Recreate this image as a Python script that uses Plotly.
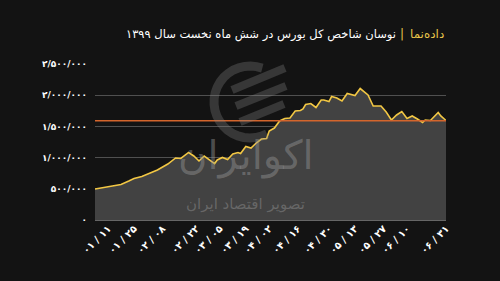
import math
import plotly.graph_objects as go

# trading-day index and index value (TEDPIX)
day_idx = [0, 6, 10, 13, 15, 18, 21, 24, 28, 31, 33, 36, 38, 40, 42, 44, 46, 47, 49, 51,
           53, 55, 56, 58, 60, 62, 64, 66, 67, 69, 71, 73, 75, 77, 79, 80, 81, 83, 85, 87,
           88, 90, 91, 93, 95, 97, 100, 102, 105, 107, 110, 112, 114, 116, 118, 120, 122,
           124, 126, 127, 129, 132, 133, 135]
index_value = [497000, 545000, 569000, 625000, 665000, 697000, 753000, 801000, 897000, 994000,
               986000, 1082000, 1026000, 946000, 1026000, 962000, 905000, 962000, 1002000, 970000,
               1058000, 1082000, 1066000, 1178000, 1154000, 1234000, 1298000, 1306000, 1426000, 1474000,
               1587000, 1627000, 1635000, 1747000, 1755000, 1779000, 1851000, 1867000, 1803000, 1923000,
               1923000, 1899000, 1979000, 1955000, 1907000, 2027000, 1995000, 2107000, 2003000, 1827000,
               1827000, 1731000, 1603000, 1683000, 1739000, 1627000, 1667000, 1619000, 1563000, 1603000,
               1595000, 1723000, 1667000, 1595000]

reference_level = 1590000

x_tick_pos = [5, 15, 26, 39, 48, 58, 67, 78, 90, 100, 111, 120, 135]
x_tick_text = ["۰۱ / ۱۱", "۰۱ / ۲۵", "۰۲ / ۰۸", "۰۲ / ۲۲", "۰۳ / ۰۵", "۰۳ / ۱۹", "۰۴ / ۰۲",
               "۰۴ / ۱۶", "۰۴ / ۳۰", "۰۵ / ۱۳", "۰۵ / ۲۷", "۰۶ / ۱۰", "۰۶ / ۳۱"]
y_tick_vals = [0, 500000, 1000000, 1500000, 2000000, 2500000]
y_tick_text = ["۰", "۵۰۰/۰۰۰", "۱/۰۰۰/۰۰۰", "۱/۵۰۰/۰۰۰", "۲/۰۰۰/۰۰۰", "۲/۵۰۰/۰۰۰"]

title_brand = "داده‌نما"
title_main = "نوسان شاخص کل بورس در شش ماه نخست سال ۱۳۹۹"
wm_big = "اکوایران"
wm_small = "تصویر اقتصاد ایران"

BG = "#131313"
ML, MR, MT, MB = 95, 54, 64, 61
W, H = 500, 281
PW, PH = W - ML - MR, H - MT - MB


def px(xp, yp):
    """pixel -> paper coordinates (for the decorative watermark logo)."""
    return (xp - ML) / PW, (H - MB - yp) / PH


fig = go.Figure()
fig.add_trace(go.Scatter(
    x=day_idx, y=index_value, mode="lines",
    line=dict(color="#f2c744", width=1.6),
    fill="tozeroy", fillcolor="#424242",
    hoverinfo="skip", showlegend=False,
))
fig.add_shape(type="line", xref="paper", x0=0, x1=1, yref="y",
              y0=reference_level, y1=reference_level,
              line=dict(color="#d4652c", width=1.5), layer="above")

# decorative watermark logo (ring + slanted stripes)
wm_col = "rgba(140,140,140,0.30)"
cx, cy, r = 250, 102, 36
pts = []
for k in range(0, 25):
    a = math.radians(70 + k * 9.5)
    pts.append(px(cx + r * math.cos(a), cy - r * math.sin(a)))
path = "M " + " L ".join(f"{p[0]:.4f},{p[1]:.4f}" for p in pts)
fig.add_shape(type="path", xref="paper", yref="paper", path=path,
              line=dict(color=wm_col, width=9), layer="above")
for (x0, y0, x1, y1) in [(232, 90, 285, 68), (236, 106, 286, 86), (240, 122, 284, 104)]:
    a0 = px(x0, y0)
    a1 = px(x1, y1)
    fig.add_shape(type="line", xref="paper", yref="paper", x0=a0[0], y0=a0[1], x1=a1[0], y1=a1[1],
                  line=dict(color=wm_col, width=8), layer="above")

fig.add_annotation(text=wm_big, xref="x", yref="y", x=58, y=1030000, showarrow=False,
                   font=dict(family="DejaVu Sans", size=40, color="rgba(150,150,150,0.45)"))
fig.add_annotation(text=wm_small, xref="x", yref="y", x=58, y=260000, showarrow=False,
                   font=dict(family="DejaVu Sans", size=15, color="rgba(150,150,150,0.45)"))

fig.add_annotation(text=title_brand, xref="paper", yref="paper", x=1, y=1, xanchor="right",
                   yanchor="middle", yshift=30, showarrow=False,
                   font=dict(family="DejaVu Sans", size=12, color="#e6c34a"))
fig.add_annotation(text="|", xref="paper", yref="paper", x=1, y=1, xanchor="right",
                   yanchor="middle", yshift=30, xshift=-40, showarrow=False,
                   font=dict(family="DejaVu Sans", size=12, color="#e6c34a"))
fig.add_annotation(text=title_main, xref="paper", yref="paper", x=1, y=1, xanchor="right",
                   yanchor="middle", yshift=30, xshift=-48, showarrow=False,
                   font=dict(family="DejaVu Sans", size=11.5, color="#ffffff"))

fig.update_layout(
    width=W, height=H,
    paper_bgcolor=BG, plot_bgcolor=BG,
    margin=dict(l=ML, r=MR, t=MT, b=MB),
    xaxis=dict(range=[0, 135], tickmode="array", tickvals=x_tick_pos, ticktext=x_tick_text,
               tickangle=-45, showgrid=False, zeroline=False, showline=False,
               tickfont=dict(family="DejaVu Sans", size=10, color="#ffffff", weight="bold")),
    yaxis=dict(range=[0, 2500000], tickmode="array", tickvals=y_tick_vals, ticktext=y_tick_text,
               showgrid=True, gridcolor="#505050", gridwidth=1, zeroline=True,
               zerolinecolor="#666666", zerolinewidth=1.5, ticklabelstandoff=7,
               tickfont=dict(family="DejaVu Sans", size=9, color="#ffffff", weight="bold")),
)
fig.write_html("out.html")
